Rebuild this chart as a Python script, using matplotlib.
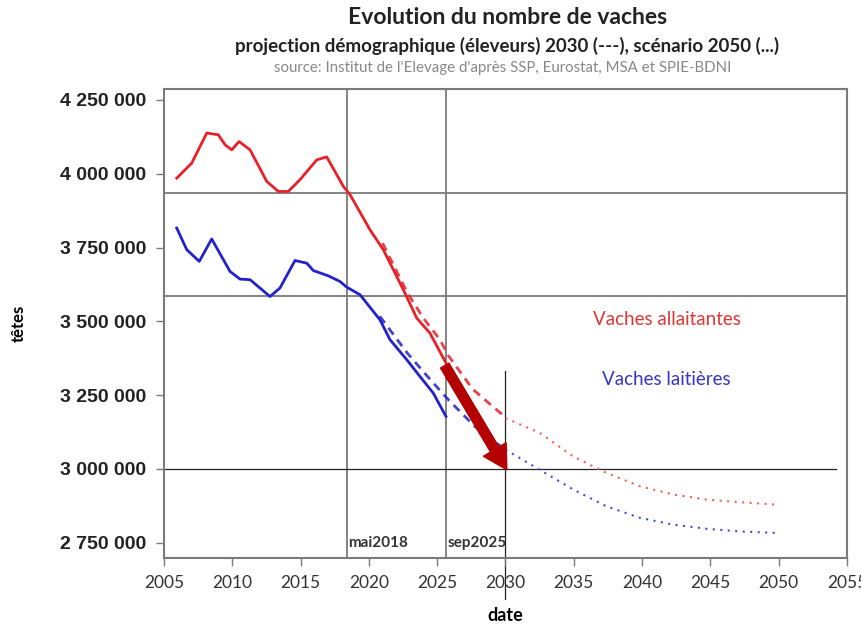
import numpy as np
import matplotlib
matplotlib.use("Agg")
import matplotlib.pyplot as plt
from matplotlib.ticker import FuncFormatter

# données (années décimales, têtes)
all_years = [2005.93, 2007.03, 2008.13, 2008.97, 2009.47, 2009.96, 2010.49, 2011.3,
             2012.52, 2013.37, 2014.1, 2014.96, 2016.18, 2016.91, 2018.13, 2018.62,
             2020.08, 2021.05, 2022.52, 2023.5, 2024.47, 2025.64]
all_vals = [3985000, 4036000, 4138000, 4132000, 4098000, 4081000, 4109000, 4081000,
            3974000, 3940000, 3940000, 3980000, 4047000, 4057000, 3957000, 3929000,
            3810000, 3743000, 3607000, 3511000, 3460000, 3359000]

lait_years = [2005.93, 2006.66, 2007.58, 2008.49, 2009.83, 2010.56, 2011.3, 2012.76,
              2013.49, 2014.59, 2015.45, 2015.93, 2017.03, 2017.88, 2018.37, 2019.35,
              2020.81, 2021.54, 2022.77, 2023.74, 2024.71, 2025.64]
lait_vals = [3816000, 3743000, 3703000, 3779000, 3669000, 3643000, 3641000, 3584000,
             3613000, 3706000, 3697000, 3672000, 3654000, 3635000, 3616000, 3590000,
             3505000, 3438000, 3370000, 3313000, 3257000, 3178000]

# projection 2030 (---)
all_proj_years = [2021.0, 2022.8, 2024.0, 2025.2, 2025.8, 2027.6, 2029.2, 2030.0]
all_proj_vals = [3765000, 3598000, 3510000, 3438000, 3385000, 3270000, 3206000, 3175000]
lait_proj_years = [2020.8, 2022.8, 2024.2, 2025.7, 2027.7, 2029.5, 2030.0]
lait_proj_vals = [3517000, 3393000, 3318000, 3240000, 3146000, 3082000, 3062000]

# scénario 2050 (...)
scen_years = [2030.0, 2032.5, 2034.96, 2037.4, 2039.85, 2042.3, 2044.73, 2047.17, 2049.8]
all_scen_vals = [3172000, 3122000, 3042000, 2986000, 2941000, 2913000, 2896000, 2887000, 2879000]
lait_scen_vals = [3065000, 2997000, 2930000, 2873000, 2834000, 2811000, 2797000, 2788000, 2783000]

x_ticks = list(range(2005, 2056, 5))
y_ticks = [2750000, 3000000, 3250000, 3500000, 3750000, 4000000, 4250000]
h_lines = [3934600, 3586000]
v_lines = [2018.4, 2025.64]
v_labels = ["mai2018", "sep2025"]

RED = "#e8202a"
BLUE = "#2222cc"
GRID = "#7a7a7a"

fig = plt.figure(figsize=(8.61, 6.26), dpi=100)
ax = fig.add_axes([0.1905, 0.1086, 0.7932, 0.7492])

for h in h_lines:
    ax.axhline(h, color=GRID, lw=1.3, zorder=1)
for v, lab in zip(v_lines, v_labels):
    ax.axvline(v, color=GRID, lw=1.3, zorder=1)
    ax.text(v + 0.1, 2750000, lab, fontsize=11, fontweight="bold", color="#333333",
            family="Lato", va="center", ha="left")
ax.plot([2005, 2054.2], [3000000, 3000000], color="#222222", lw=0.9, zorder=1)
ax.plot([2030, 2030], [3330000, 2560000], color="#222222", lw=0.9, zorder=1, clip_on=False)

ax.plot(all_years, all_vals, color=RED, lw=2)
ax.plot(lait_years, lait_vals, color=BLUE, lw=2)
ax.plot(all_proj_years, all_proj_vals, color=RED, lw=2, ls=(0, (3, 2.2)), alpha=0.85)
ax.plot(lait_proj_years, lait_proj_vals, color=BLUE, lw=2, ls=(0, (3, 2.2)), alpha=0.85)
ax.plot(scen_years, all_scen_vals, color="#f06060", lw=1.5, ls=(0, (1, 2.6)))
ax.plot(scen_years, lait_scen_vals, color="#4a4ae0", lw=1.5, ls=(0, (1, 2.6)))

ax.annotate("", xy=(2030.1, 2997000), xytext=(2025.55, 3350000),
            arrowprops=dict(width=7, headwidth=19, headlength=17, color="#b40000", shrink=0),
            zorder=5)

ax.text(2041.8, 3505000, "Vaches allaitantes", color="#e03535", fontsize=13.5,
        family="Lato", ha="center", va="center")
ax.text(2041.8, 3302000, "Vaches laitières", color="#3535c8", fontsize=13.5,
        family="Lato", ha="center", va="center")

ax.set_xlim(2005, 2055)
ax.set_ylim(2698000, 4287000)
ax.set_xticks(x_ticks)
ax.set_yticks(y_ticks)
ax.yaxis.set_major_formatter(FuncFormatter(lambda v, p: f"{int(v):,}".replace(",", " ")))
for lbl in ax.get_yticklabels():
    lbl.set_fontfamily("Liberation Sans")
    lbl.set_fontweight("bold")
    lbl.set_fontsize(14)
    lbl.set_color("#222222")
for lbl in ax.get_xticklabels():
    lbl.set_fontfamily("Lato")
    lbl.set_fontsize(12.5)
    lbl.set_color("#333333")
ax.tick_params(axis="both", length=6, width=1, color=GRID, direction="out")
ax.tick_params(axis="x", pad=6)
ax.tick_params(axis="y", pad=7)
for s in ax.spines.values():
    s.set_color(GRID)
    s.set_linewidth(1.5)

ax.set_xlabel("date", fontsize=13, fontweight="bold", family="Lato", labelpad=12)
ax.set_ylabel("têtes", fontsize=12, fontweight="bold", family="Lato", labelpad=24)

fig.text(0.589, 0.972, "Evolution du nombre de vaches", fontsize=16.5, fontweight="bold",
         family="Lato", ha="center", va="center", color="#222222")
fig.text(0.589, 0.926, "projection démographique (éleveurs) 2030 (---), scénario 2050 (...)",
         fontsize=13.5, fontweight="bold", family="Lato", ha="center", va="center", color="#222222")
fig.text(0.584, 0.891, "source: Institut de l'Elevage d'après SSP, Eurostat, MSA et SPIE-BDNI",
         fontsize=10.8, family="Lato", ha="center", va="center", color="#888888")

fig.savefig("out.png", dpi=100)
